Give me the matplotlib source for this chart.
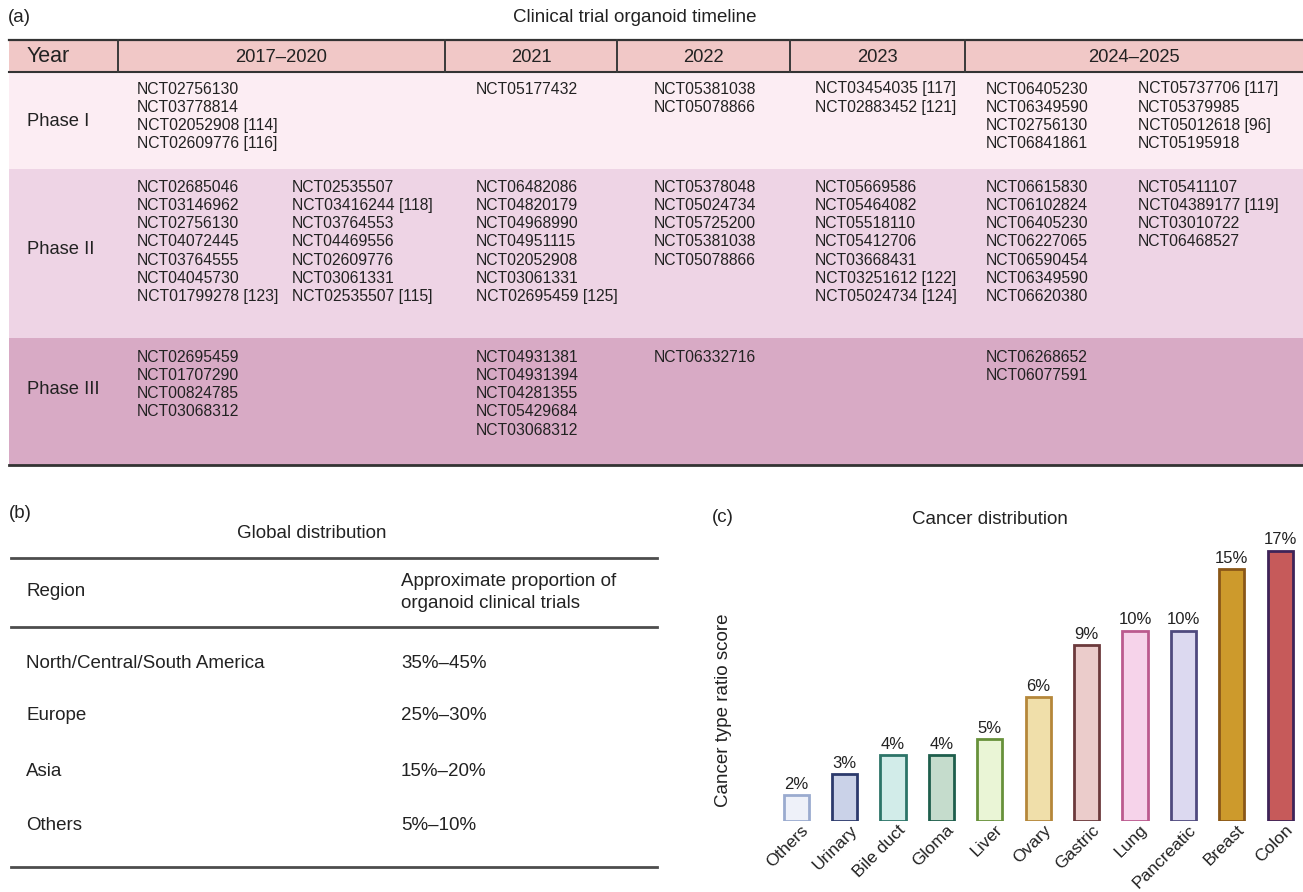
import matplotlib.pyplot as plt
from matplotlib.patches import Rectangle
from matplotlib.transforms import ScaledTranslation

plt.rcParams['font.family'] = ['Liberation Sans', 'DejaVu Sans']

# ---- (a) clinical trial timeline ----
years = ['2017–2020', '2021', '2022', '2023', '2024–2025']
phases = ['Phase I', 'Phase II', 'Phase III']

# sub-columns: 2017-2020 (a, b), 2021, 2022, 2023, 2024-2025 (a, b)
phase1_trials = [
    ['NCT02756130', 'NCT03778814', 'NCT02052908 [114]', 'NCT02609776 [116]'],
    [],
    ['NCT05177432'],
    ['NCT05381038', 'NCT05078866'],
    ['NCT03454035 [117]', 'NCT02883452 [121]'],
    ['NCT06405230', 'NCT06349590', 'NCT02756130', 'NCT06841861'],
    ['NCT05737706 [117]', 'NCT05379985', 'NCT05012618 [96]', 'NCT05195918'],
]
phase2_trials = [
    ['NCT02685046', 'NCT03146962', 'NCT02756130', 'NCT04072445', 'NCT03764555',
     'NCT04045730', 'NCT01799278 [123]'],
    ['NCT02535507', 'NCT03416244 [118]', 'NCT03764553', 'NCT04469556', 'NCT02609776',
     'NCT03061331', 'NCT02535507 [115]'],
    ['NCT06482086', 'NCT04820179', 'NCT04968990', 'NCT04951115', 'NCT02052908',
     'NCT03061331', 'NCT02695459 [125]'],
    ['NCT05378048', 'NCT05024734', 'NCT05725200', 'NCT05381038', 'NCT05078866'],
    ['NCT05669586', 'NCT05464082', 'NCT05518110', 'NCT05412706', 'NCT03668431',
     'NCT03251612 [122]', 'NCT05024734 [124]'],
    ['NCT06615830', 'NCT06102824', 'NCT06405230', 'NCT06227065', 'NCT06590454',
     'NCT06349590', 'NCT06620380'],
    ['NCT05411107', 'NCT04389177 [119]', 'NCT03010722', 'NCT06468527'],
]
phase3_trials = [
    ['NCT02695459', 'NCT01707290', 'NCT00824785', 'NCT03068312'],
    [],
    ['NCT04931381', 'NCT04931394', 'NCT04281355', 'NCT05429684', 'NCT03068312'],
    ['NCT06332716'],
    [],
    ['NCT06268652', 'NCT06077591'],
    [],
]

# ---- (b) global distribution ----
regions = ['North/Central/South America', 'Europe', 'Asia', 'Others']
proportions = ['35%–45%', '25%–30%', '15%–20%', '5%–10%']

# ---- (c) cancer distribution ----
cancers = ['Others', 'Urinary', 'Bile duct', 'Gloma', 'Liver', 'Ovary', 'Gastric',
           'Lung', 'Pancreatic', 'Breast', 'Colon']
ratio_scores = [1.65, 2.96, 4.14, 4.14, 5.14, 7.78, 11.05, 11.96, 11.96, 15.84, 17.0]
pct_labels = ['2%', '3%', '4%', '4%', '5%', '6%', '9%', '10%', '10%', '15%', '17%']
fill_colors = ['#eef1f9', '#cad2e8', '#d2ece9', '#c5dccc', '#eaf5d6', '#f0dfaa',
               '#ebcccb', '#f6d3ea', '#dcd9f0', '#cd9a2c', '#c65a5a']
edge_colors = ['#9aabcf', '#2c3a6c', '#2d7468', '#1e5e4c', '#67913a', '#b5873a',
               '#6c3a3c', '#bb5a8e', '#4f4a7e', '#8a5718', '#3e2458']

W, H = 1303, 892
TXT = '#222222'
fig = plt.figure(figsize=(W / 100, H / 100), dpi=100)
bg = fig.add_axes([0, 0, 1, 1])
bg.set_xlim(0, W)
bg.set_ylim(H, 0)
bg.axis('off')

# table (a)
col_edges = [9, 118, 445, 617, 790, 965, W]
row_edges = [40, 72, 169, 338, 465]
row_colors = ['#f1c8c7', '#fcedf3', '#eed4e5', '#d8aac5']
for i, c in enumerate(row_colors):
    bg.add_patch(Rectangle((9, row_edges[i]), W - 9, row_edges[i + 1] - row_edges[i],
                           facecolor=c, edgecolor='none'))
bg.plot([9, W], [40, 40], color='#333333', lw=1.6)
bg.plot([9, W], [72, 72], color='#333333', lw=1.5)
bg.plot([9, W], [465, 465], color='#333333', lw=2)
for x in col_edges[1:-1]:
    bg.plot([x, x], [40, 72], color='#3a3a3a', lw=1.4)

bg.text(8, 18, '(a)', fontsize=13.5, color=TXT, va='center')
bg.text(635, 18, 'Clinical trial organoid timeline', fontsize=13.5, color=TXT,
        ha='center', va='center')
bg.text(27, 57, 'Year', fontsize=15.5, color=TXT, va='center')
for i, yr in enumerate(years):
    bg.text((col_edges[i + 1] + col_edges[i + 2]) / 2, 57, yr, fontsize=13.2,
            color=TXT, ha='center', va='center')

phase_y = [121, 249, 390]
for ph, y in zip(phases, phase_y):
    bg.text(27, y, ph, fontsize=13.2, color=TXT, va='center')

sub_x = [137, 292, 476, 654, 815, 986, 1138]
first_line = [89, 187, 357]
line_h = 18.3
for trials, y0 in zip([phase1_trials, phase2_trials, phase3_trials], first_line):
    for x, col in zip(sub_x, trials):
        for k, t in enumerate(col):
            bg.text(x, y0 + k * line_h, t, fontsize=11.3, color=TXT, va='center')

# table (b)
bg.text(9, 513, '(b)', fontsize=13.5, color=TXT, va='center')
bg.text(312, 533, 'Global distribution', fontsize=13.5, color=TXT, ha='center', va='center')
for y in [558, 627, 867]:
    bg.plot([11, 657], [y, y], color='#4d4d4d', lw=2)
bg.text(26, 592, 'Region', fontsize=13.5, color=TXT, va='center')
bg.text(401, 581, 'Approximate proportion of', fontsize=13.5, color=TXT, va='center')
bg.text(401, 603, 'organoid clinical trials', fontsize=13.5, color=TXT, va='center')
for reg, prop, y in zip(regions, proportions, [663, 716, 772, 825]):
    bg.text(26, y, reg, fontsize=13.5, color=TXT, va='center')
    bg.text(401, y, prop, fontsize=13.5, color=TXT, va='center')

# bar chart (c)
bg.text(712, 518, '(c)', fontsize=13.5, color=TXT, va='center')
bg.text(990, 520, 'Cancer distribution', fontsize=13.5, color=TXT, ha='center', va='center')
bg.text(723, 710, 'Cancer type ratio score', fontsize=13.5, color=TXT, rotation=90,
        ha='center', va='center')

ax = fig.add_axes([772 / W, (H - 821.3) / H, 531 / W, 286.6 / H])
x = list(range(len(cancers)))
ax.bar(x, ratio_scores, width=0.52, color=fill_colors, edgecolor=edge_colors, linewidth=2)
for i, (h, lbl) in enumerate(zip(ratio_scores, pct_labels)):
    ax.annotate(lbl, (i, h), xytext=(0, 2.5), textcoords='offset points',
                ha='center', va='bottom', fontsize=12, color=TXT)
ax.set_xlim(-0.5, 10.47)
ax.set_ylim(0, 18)
for s in ax.spines.values():
    s.set_visible(False)
ax.set_yticks([])
ax.set_xticks(x)
ax.set_xticklabels(cancers, rotation=45, ha='right', va='center',
                   rotation_mode='anchor', fontsize=12.5, color=TXT)
ax.tick_params(axis='x', length=0, pad=4.5)
shift = ScaledTranslation(10 / 100, 0, fig.dpi_scale_trans)
for lab in ax.get_xticklabels():
    lab.set_transform(lab.get_transform() + shift)

fig.savefig('out.png', dpi=100)
